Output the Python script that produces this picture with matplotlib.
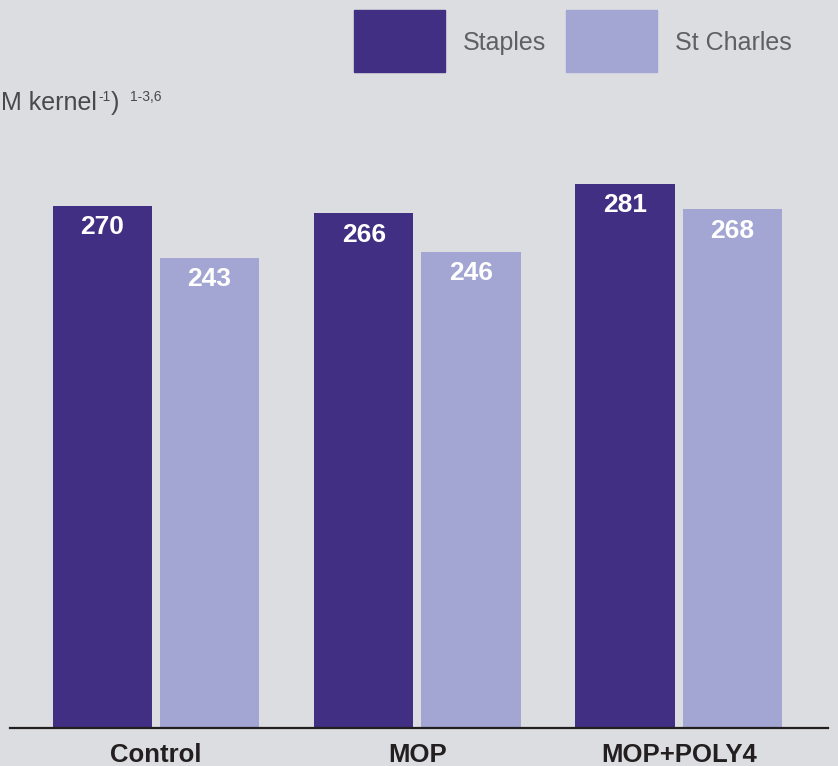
import numpy as np
import matplotlib.pyplot as plt

groups = ["Control", "MOP", "MOP+POLY4"]
varieties = ["Staples", "St Charles"]
staples = [270, 266, 281]
st_charles = [243, 246, 268]

plt.rcParams.update({
    "font.family": ["Liberation Sans", "DejaVu Sans"],
})

bg = "#dcdde0"
dark = "#412f83"
light = "#a3a5d3"

W, H = 838, 766
fig = plt.figure(figsize=(W / 100, H / 100), dpi=100, facecolor=bg)
ax = fig.add_axes([10 / W, 38.5 / H, 818 / W, 580 / H], facecolor=bg)

x = np.arange(len(groups))
bw = 0.38
off = 0.205
b1 = ax.bar(x - off, staples, bw, color=dark)
b2 = ax.bar(x + off, st_charles, bw, color=light)

for bars, vals in ((b1, staples), (b2, st_charles)):
    for rect, v in zip(bars, vals):
        ax.text(rect.get_x() + rect.get_width() / 2, v - 11, str(v),
                ha="center", va="center", color="white",
                fontsize=19, fontweight="bold")

ax.set_xlim(-0.558, 2.571)
ax.set_ylim(0, 300)
for s in ("top", "right", "left"):
    ax.spines[s].set_visible(False)
ax.spines["bottom"].set_linewidth(1.6)
ax.spines["bottom"].set_color("#231f20")
ax.set_yticks([])
ax.set_xticks(x)
ax.set_xticklabels(groups, fontsize=18.5, fontweight="bold", color="#231f20")
ax.tick_params(axis="x", length=0, pad=11)

# legend boxes drawn in figure pixels
for x0, col, lab in ((354, dark, varieties[0]), (566, light, varieties[1])):
    fig.patches.append(plt.Rectangle((x0 / W, (H - 72) / H), 91 / W, 62 / H,
                                     transform=fig.transFigure, color=col))
    fig.text((x0 + 109) / W, (H - 43) / H, lab, ha="left", va="center",
             fontsize=18, color="#5f6063")

# unit label with superscripts, each piece placed after the previous one
lab_col = "#48494b"
yb = H - 110
pieces = [("M kernel", 18, 0, 0), ("-1", 10, 9, 1), (")", 18, 0, 1), ("1-3,6", 10, 9, 10)]
renderer = fig.canvas.get_renderer()
xp = 1
for s, fs, dy, gap in pieces:
    xp += gap
    t = fig.text(xp / W, (yb + dy) / H, s, ha="left", va="baseline",
                 fontsize=fs, color=lab_col)
    xp = t.get_window_extent(renderer).x1

fig.savefig("out.png", facecolor=bg)
